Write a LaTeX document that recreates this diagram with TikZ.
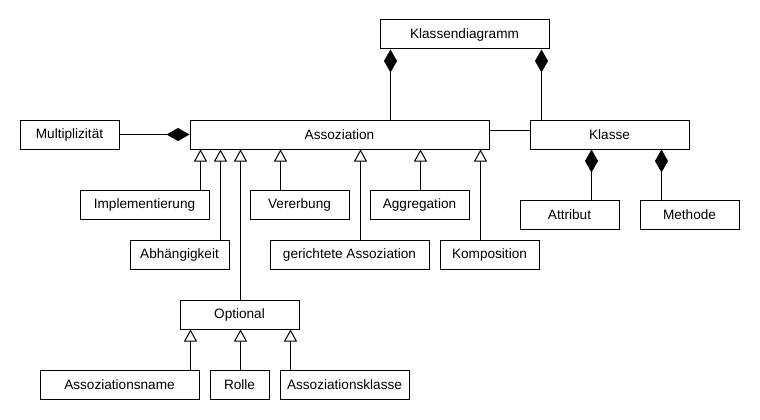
\documentclass[tikz,border=0pt]{standalone}
\usepackage{fontspec}
\setmainfont{Liberation Sans}
\usetikzlibrary{arrows.meta}
\begin{document}
\begin{tikzpicture}[x=1pt,y=-1pt,
  box/.style={draw=black,line width=1pt,fill=white,minimum height=29pt,inner sep=0pt,
    font=\fontsize{13.6}{16}\selectfont},
  comp/.style={line width=1pt,{Diamond[fill=black,length=23pt,width=13pt]}-},
  gen/.style={line width=1pt,{Triangle[open,fill=white,length=12pt,width=13pt]}-},
  plain/.style={line width=1pt}]
\useasboundingbox[fill=white] (0,0) rectangle (760,420);
\node[box,minimum width=169pt] (kd) at (464.5,34.5) {Klassendiagramm};
\node[box,minimum width=299pt] (assoz) at (339.5,134.5) {Assoziation};
\node[box,minimum width=99pt] (mult) at (69.5,134.5) {Multiplizität};
\node[box,minimum width=159pt] (klasse) at (609.5,134.5) {Klasse};
\node[box,minimum width=99pt] (attr) at (569.5,214.5) {Attribut};
\node[box,minimum width=99pt] (meth) at (689.5,214.5) {Methode};
\node[box,minimum width=129pt] (impl) at (144.5,204.5) {Implementierung};
\node[box,minimum width=99pt] (vererb) at (299.5,204.5) {Vererbung};
\node[box,minimum width=99pt] (aggr) at (419.5,204.5) {Aggregation};
\node[box,minimum width=99pt] (abh) at (179.5,254.5) {Abhängigkeit};
\node[box,minimum width=159pt] (ger) at (349.5,254.5) {gerichtete Assoziation};
\node[box,minimum width=99pt] (komp) at (489.5,254.5) {Komposition};
\node[box,minimum width=119pt] (opt) at (239.5,314.5) {Optional};
\node[box,minimum width=159pt] (aname) at (119.5,384.5) {Assoziationsname};
\node[box,minimum width=59pt] (rolle) at (239.5,384.5) {Rolle};
\node[box,minimum width=129pt] (aklasse) at (344.5,384.5) {Assoziationsklasse};
% compositions
\draw[comp] (390.5,0 |- kd.south) -- (390.5,0 |- assoz.north);
\draw[comp] (541.5,0 |- kd.south) -- (541.5,0 |- klasse.north);
\draw[comp] (assoz.west) -- (mult.east);
\draw[comp] (591.5,0 |- klasse.south) -- (591.5,0 |- attr.north);
\draw[comp] (661.5,0 |- klasse.south) -- (661.5,0 |- meth.north);
\draw[plain] (assoz.east |- 0,130.5) -- (klasse.west |- 0,130.5);
% generalizations
\draw[gen] (200.5,0 |- assoz.south) -- (200.5,0 |- impl.north);
\draw[gen] (220.5,0 |- assoz.south) -- (220.5,0 |- abh.north);
\draw[gen] (240.5,0 |- assoz.south) -- (240.5,0 |- opt.north);
\draw[gen] (280.5,0 |- assoz.south) -- (280.5,0 |- vererb.north);
\draw[gen] (360.5,0 |- assoz.south) -- (360.5,0 |- ger.north);
\draw[gen] (420.5,0 |- assoz.south) -- (420.5,0 |- aggr.north);
\draw[gen] (480.5,0 |- assoz.south) -- (480.5,0 |- komp.north);
\draw[gen] (190.5,0 |- opt.south) -- (190.5,0 |- aname.north);
\draw[gen] (240.5,0 |- opt.south) -- (240.5,0 |- rolle.north);
\draw[gen] (290.5,0 |- opt.south) -- (290.5,0 |- aklasse.north);
\end{tikzpicture}
\end{document}
